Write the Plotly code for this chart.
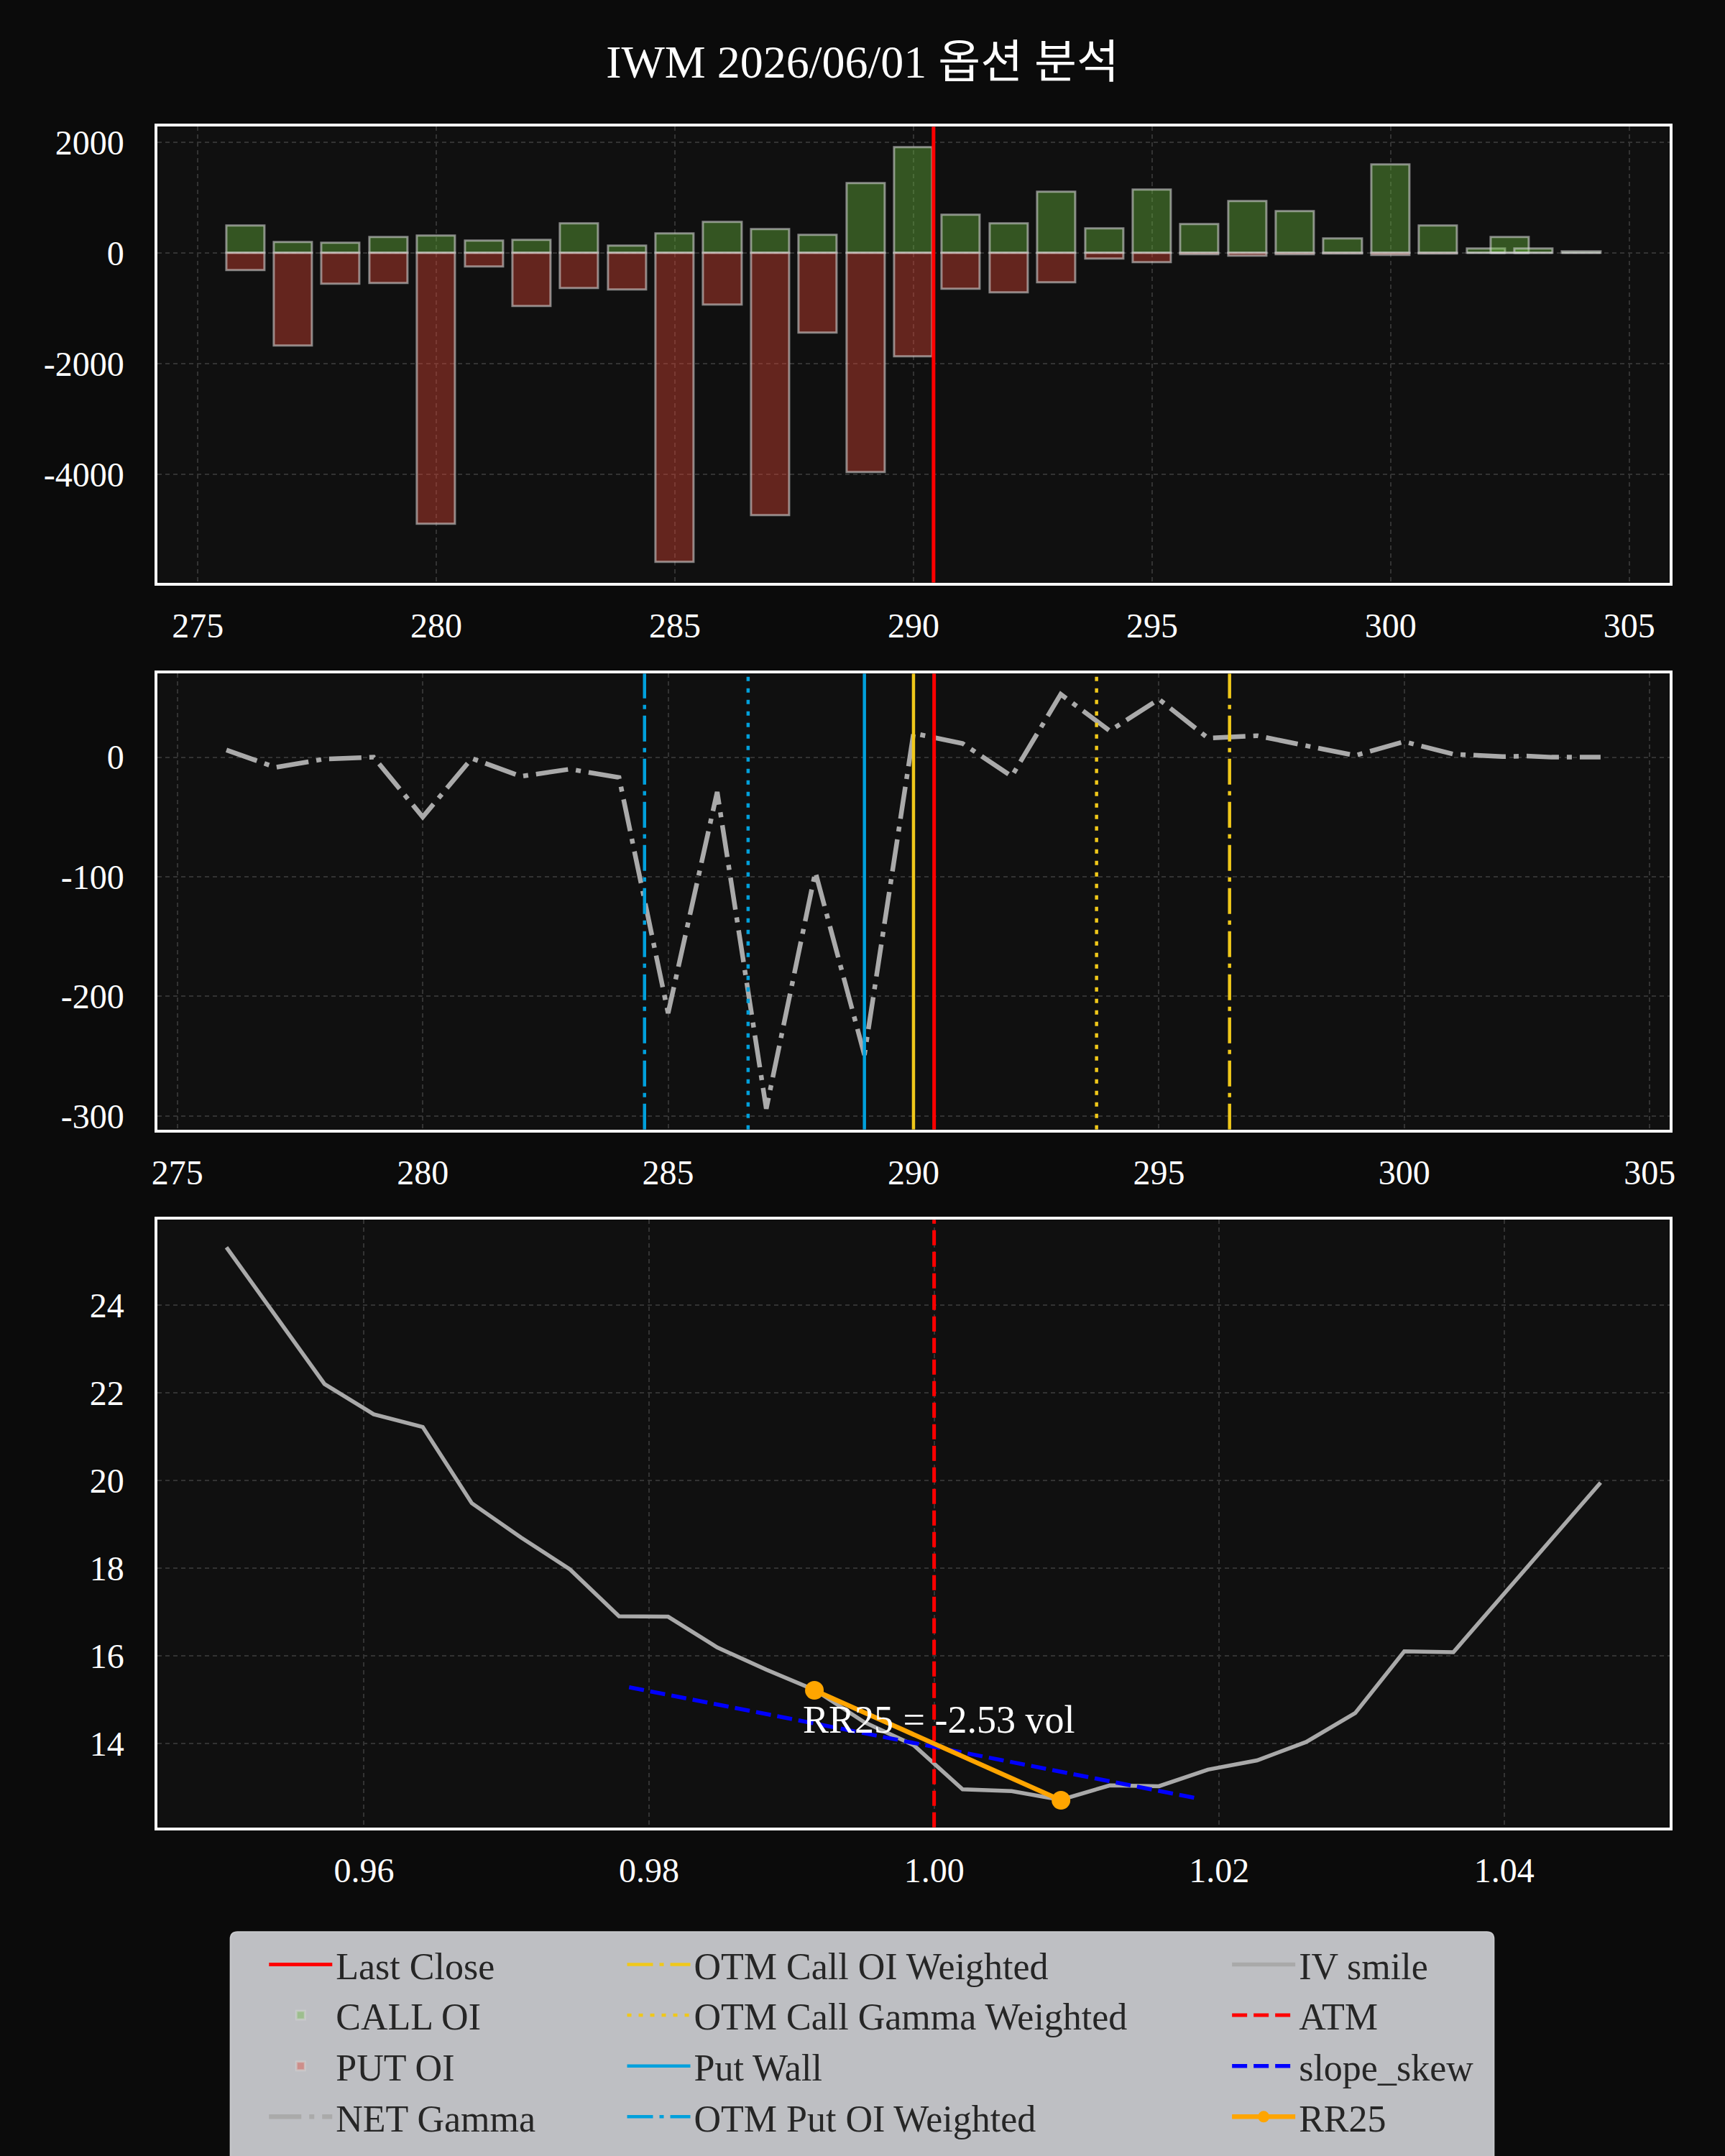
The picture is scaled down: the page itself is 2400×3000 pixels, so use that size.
import numpy as np
import plotly.graph_objects as go
from plotly.subplots import make_subplots

TITLE = "IWM 2026/06/01 옵션 분석"
FONT = "Liberation Serif, Noto Sans CJK KR, serif"

# option chain by strike
strikes = [276, 277, 278, 279, 280, 281, 282, 283, 284, 285, 286, 287, 288, 289, 290,
           291, 292, 293, 294, 295, 296, 297, 298, 299, 300, 301, 302, 302.5, 303, 304]
call_oi = [490, 190, 179, 282, 305, 219, 230, 524, 127, 346, 553, 421, 317, 1262, 1908,
           680, 524, 1095, 438, 1135, 513, 928, 744, 254, 1597, 490, 75, 282, 75, 23]
put_oi = [317, 1677, 565, 548, 4905, 254, 962, 640, 663, 5585, 940, 4749, 1441, 3965, 1879,
          657, 720, 542, 104, 173, 29, 52, 29, 17, 40, 17, 8, 8, 8, 5]
net_gamma = [6, -8.5, -1.5, 0, -50, -1, -16, -10, -17, -214, -29, -294, -96, -249, 20,
             11.5, -16, 52.6, 22, 48.5, 16, 18, 9.6, 1.4, 13, 2.5, 0.5, 1, 0, 0]

# key levels
last_close = 290.42
call_wall = 290.0
put_wall = 289.0
otm_call_oi_w = 296.44
otm_call_gamma_w = 293.73
otm_put_oi_w = 284.52
otm_put_gamma_w = 286.63

# IV smile (percent) by strike
smile_strikes = [276, 278, 279, 280, 281, 282, 283, 284, 285, 286, 287, 288, 289, 290,
                 291, 292, 293, 294, 295, 296, 297, 298, 299, 300, 301, 304]
smile_iv = [25.32, 22.20, 21.51, 21.22, 19.48, 18.70, 17.97, 16.90, 16.89, 16.19, 15.68, 15.21,
            14.48, 13.96, 12.95, 12.91, 12.71, 13.04, 13.02, 13.40, 13.61, 14.03, 14.69, 16.10,
            16.08, 19.95]
rr25_m = [0.9916, 1.0089]
rr25_iv = [15.21, 12.70]
rr25_value = -2.53
slope_m = [0.9786, 1.0185]
slope_iv = [15.28, 12.74]
atm = 1.0

strike_ticks = [275, 280, 285, 290, 295, 300, 305]
oi_ticks = [-4000, -2000, 0, 2000]
gamma_ticks = [-300, -200, -100, 0]
money_ticks = [0.96, 0.98, 1.00, 1.02, 1.04]
iv_ticks = [14, 16, 18, 20, 22, 24]

RED = "#ff0000"
BLUE = "#00a0dc"
YELLOW = "#f0c81a"
GRAY = "#aaaaaa"


def padded(lo, hi, f=0.05):
    span = hi - lo
    return [lo - f * span, hi + f * span]


moneyness = np.array(smile_strikes) / last_close
neg_put = [-p for p in put_oi]

x_oi = padded(min(strikes) - 0.4, max(strikes) + 0.4)
y_oi = padded(min(neg_put), max(call_oi))
x_g = padded(min(strikes), max(strikes))
y_g = padded(min(net_gamma), max(net_gamma))
x_iv = padded(moneyness.min(), moneyness.max())
y_iv = padded(min(smile_iv), max(smile_iv))

fig = make_subplots(rows=3, cols=1)


def vline(x, yr, row, color, dash, width, name=None, legend=None, rank=None):
    fig.add_trace(go.Scatter(
        x=[x, x], y=yr, mode="lines",
        line=dict(color=color, dash=dash, width=width),
        name=name, showlegend=name is not None,
        legend=legend, legendrank=rank, hoverinfo="skip"), row=row, col=1)


# --- panel 1: open interest
fig.add_trace(go.Bar(x=strikes, y=call_oi, width=0.8, name="CALL OI",
                     marker=dict(color="rgba(107,189,62,0.4)",
                                 line=dict(color="rgba(210,210,210,0.6)", width=3)),
                     legend="legend", legendrank=2), row=1, col=1)
fig.add_trace(go.Bar(x=strikes, y=neg_put, width=0.8, name="PUT OI",
                     marker=dict(color="rgba(227,70,52,0.4)",
                                 line=dict(color="rgba(210,210,210,0.6)", width=3)),
                     legend="legend", legendrank=3), row=1, col=1)
vline(last_close, y_oi, 1, RED, "solid", 5, "Last Close", "legend", 1)

# --- panel 2: net gamma + levels
fig.add_trace(go.Scatter(x=strikes, y=net_gamma, mode="lines", name="NET Gamma",
                         line=dict(color=GRAY, width=6.5, dash="45px,11px,7px,11px"),
                         legend="legend", legendrank=4), row=2, col=1)
vline(otm_call_oi_w, y_g, 2, YELLOW, "36px,9px,6px,9px", 4.5, "OTM Call OI Weighted", "legend2", 5)
vline(otm_call_gamma_w, y_g, 2, YELLOW, "6px,10px", 4.5, "OTM Call Gamma Weighted", "legend2", 6)
vline(put_wall, y_g, 2, BLUE, "solid", 4.5, "Put Wall", "legend2", 7)
vline(otm_put_oi_w, y_g, 2, BLUE, "36px,9px,6px,9px", 4.5, "OTM Put OI Weighted", "legend2", 8)
vline(otm_put_gamma_w, y_g, 2, BLUE, "6px,10px", 4.5)
vline(call_wall, y_g, 2, YELLOW, "solid", 4.5)
vline(last_close, y_g, 2, RED, "solid", 5)

# --- panel 3: IV smile
fig.add_trace(go.Scatter(x=moneyness, y=smile_iv, mode="lines", name="IV smile",
                         line=dict(color="#a9a9a9", width=5.5),
                         legend="legend3", legendrank=9), row=3, col=1)
vline(atm, y_iv, 3, RED, "21px,9px", 5, "ATM", "legend3", 10)
fig.add_trace(go.Scatter(x=slope_m, y=slope_iv, mode="lines", name="slope_skew",
                         line=dict(color="#0000ff", width=5.5, dash="21px,9px"),
                         legend="legend3", legendrank=11), row=3, col=1)
fig.add_trace(go.Scatter(x=rr25_m, y=rr25_iv, mode="lines+markers", name="RR25",
                         line=dict(color="#ffa500", width=6.5),
                         marker=dict(color="#ffa500", size=26),
                         legend="legend3", legendrank=12), row=3, col=1)
fig.add_annotation(x=0.9907, y=14.54, xref="x3", yref="y3", text=f"RR25 = {rr25_value:.2f} vol",
                   showarrow=False, xanchor="left", yanchor="middle",
                   font=dict(size=54, color="white", family=FONT))

axis_style = dict(showline=True, mirror=True, linecolor="white", linewidth=4,
                  showgrid=True, gridcolor="#333333", gridwidth=2, griddash="6px,5px",
                  zeroline=False, ticks="", tickmode="array",
                  tickfont=dict(size=48, color="white", family=FONT))

fig.update_xaxes(**axis_style, ticklabelstandoff=15)
fig.update_yaxes(**axis_style, ticklabelstandoff=33)

xdom = [212 / 2400, 2331 / 2400]
fig.update_layout(
    xaxis=dict(domain=xdom, range=x_oi, tickvals=strike_ticks, ticktext=[str(v) for v in strike_ticks]),
    yaxis=dict(domain=[1 - 810 / 3000, 1 - 173 / 3000], range=y_oi,
               tickvals=oi_ticks, ticktext=[str(v) for v in oi_ticks]),
    xaxis2=dict(domain=xdom, range=x_g, tickvals=strike_ticks, ticktext=[str(v) for v in strike_ticks]),
    yaxis2=dict(domain=[1 - 1574 / 3000, 1 - 937 / 3000], range=y_g,
                tickvals=gamma_ticks, ticktext=[str(v) for v in gamma_ticks]),
    xaxis3=dict(domain=xdom, range=list(x_iv), tickvals=money_ticks,
                ticktext=[f"{v:.2f}" for v in money_ticks]),
    yaxis3=dict(domain=[1 - 2549 / 3000, 1 - 1700 / 3000], range=y_iv,
                tickvals=iv_ticks, ticktext=[str(v) for v in iv_ticks]),
)

legend_style = dict(orientation="v", yanchor="top", y=0.1, xanchor="left",
                    bgcolor="rgba(0,0,0,0)", borderwidth=0, itemwidth=88,
                    font=dict(size=52, color="#262626", family=FONT))

# shared legend frame (rounded top corners, runs off the bottom)
lx0, lx1, ly1 = 314 / 2400, 2085 / 2400, 1 - 2695 / 3000
rx, ry = 10 / 2400, 10 / 3000
frame = (f"M{lx0},-0.05 L{lx0},{ly1 - ry} Q{lx0},{ly1} {lx0 + rx},{ly1} "
         f"L{lx1 - rx},{ly1} Q{lx1},{ly1} {lx1},{ly1 - ry} L{lx1},-0.05 Z")

fig.update_layout(
    width=2400, height=3000,
    margin=dict(l=0, r=0, t=0, b=0),
    paper_bgcolor="#0b0b0b", plot_bgcolor="#101010",
    barmode="overlay", bargap=0,
    font=dict(family=FONT, color="white"),
    title=dict(text=TITLE, x=0.5, xanchor="center", y=1 - 86 / 3000, yanchor="middle",
               font=dict(size=64, color="white", family=FONT)),
    legend=dict(**legend_style, x=363 / 2400),
    legend2=dict(**legend_style, x=865 / 2400),
    legend3=dict(**legend_style, x=1713 / 2400),
    shapes=[dict(type="path", xref="paper", yref="paper", path=frame,
                 fillcolor="#bebfc3", line=dict(color="#c8c9cc", width=2), layer="below")],
)

fig.write_html("out.html", config={"displayModeBar": False},
               post_script="document.body.style.margin = '0';")
